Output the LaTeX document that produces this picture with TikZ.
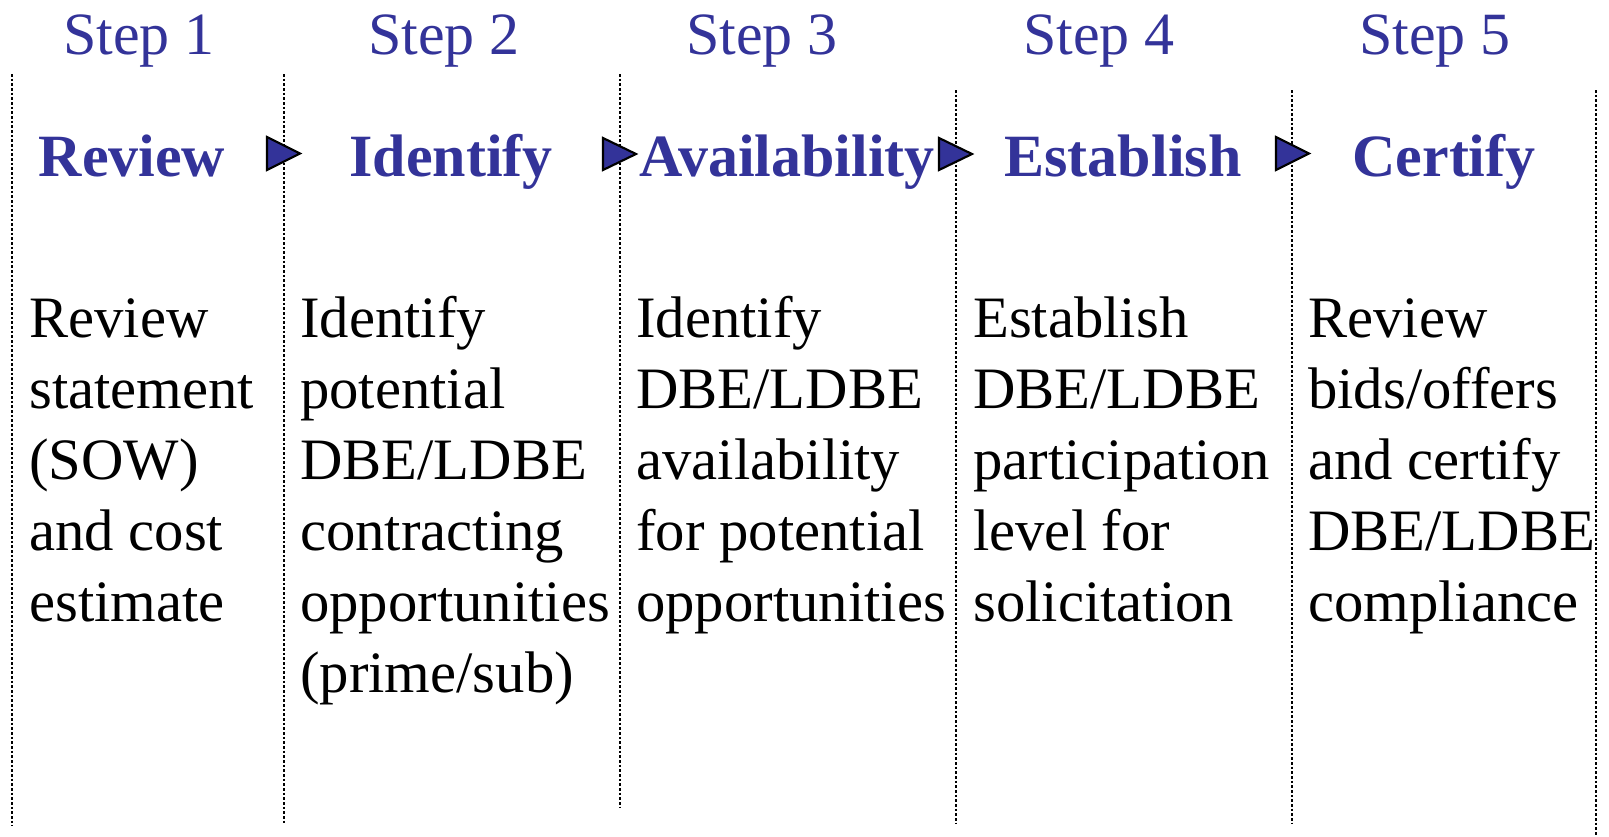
\documentclass[tikz,border=0pt]{standalone}
\usepackage{fontspec}
\setmainfont{Liberation Serif}
\definecolor{stepblue}{HTML}{333399}
\newcommand{\colbody}[1]{\begin{tabular}[t]{@{}l@{}}#1\end{tabular}}
\begin{document}
\begin{tikzpicture}[x=0.75pt,y=-0.75pt,
  steplabel/.style={text=stepblue,font=\fontsize{45pt}{54pt}\selectfont,anchor=base,inner sep=0pt},
  phase/.style={text=stepblue,font=\fontsize{45pt}{54pt}\selectfont\bfseries,anchor=base,inner sep=0pt},
  body/.style={font=\fontsize{44pt}{53.25pt}\selectfont,anchor=base west,inner sep=0pt},
  divider/.style={line width=1.9pt,dash pattern=on 1.9pt off 1.6pt},
  arrowtri/.style={fill=stepblue,draw=black,line width=1.6pt,line join=miter}]
\useasboundingbox (0,0) rectangle (1609,836);
% dividers
\coordinate (d1t) at (12,74);   \coordinate (d1b) at (12,826);
\coordinate (d2t) at (284,74);  \coordinate (d2b) at (284,823);
\coordinate (d3t) at (620,74);  \coordinate (d3b) at (620,807);
\coordinate (d4t) at (956,90);  \coordinate (d4b) at (956,824);
\coordinate (d5t) at (1292,90); \coordinate (d5b) at (1292,824);
\coordinate (d6t) at (1596,90); \coordinate (d6b) at (1596,836);
\foreach \i in {1,...,6} {\draw[divider] (d\i t) -- (d\i b);}
% step labels
\node[steplabel] (s1) at (139,54) {Step 1};
\node[steplabel] (s2) at (444,54) {Step 2};
\node[steplabel] (s3) at (762,54) {Step 3};
\node[steplabel] (s4) at (1099,54) {Step 4};
\node[steplabel] (s5) at (1435,54) {Step 5};
% phase titles
\node[phase] (p1) at (132,176) {Review};
\node[phase] (p2) at (451,176) {Identify};
\node[phase] (p3) at (787,176) {Availability};
\node[phase] (p4) at (1123,176) {Establish};
\node[phase] (p5) at (1444,176) {Certify};
% arrows
\draw[arrowtri] (267,137) -- (267,170) -- (300,153.5) -- cycle;
\draw[arrowtri] (603,138) -- (603,170) -- (636,154) -- cycle;
\draw[arrowtri] (939,138) -- (939,170) -- (972,154) -- cycle;
\draw[arrowtri] (1276,137) -- (1276,170) -- (1309,153.5) -- cycle;
% bodies
\node[body] (b1) at (29,337) {\colbody{Review\\statement\\(SOW)\\and cost\\estimate}};
\node[body] (b2) at (300,337) {\colbody{Identify\\potential\\DBE/LDBE\\contracting\\opportunities\\(prime/sub)}};
\node[body] (b3) at (636,337) {\colbody{Identify\\DBE/LDBE\\availability\\for potential\\opportunities}};
\node[body] (b4) at (973,337) {\colbody{Establish\\DBE/LDBE\\participation\\level for\\solicitation}};
\node[body] (b5) at (1308,337) {\colbody{Review\\bids/offers\\and certify\\DBE/LDBE\\compliance}};
\end{tikzpicture}
\end{document}
